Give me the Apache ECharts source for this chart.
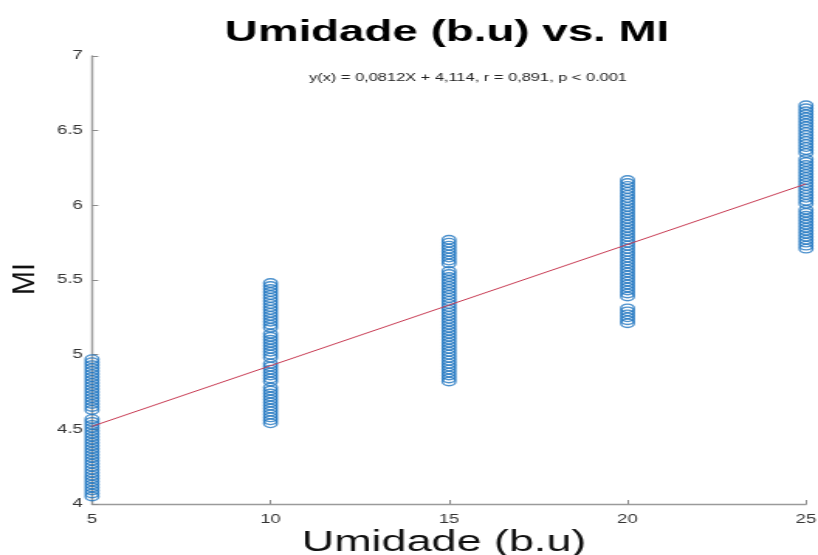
<!DOCTYPE html>
<html>
<head>
<meta charset="utf-8">
<script src="https://cdn.jsdelivr.net/npm/echarts@6/dist/echarts.min.js"></script>
<style>
html,body{margin:0;padding:0;background:#fff;overflow:hidden;}
#wrap{width:818px;height:555px;overflow:hidden;position:relative;}
#chart{width:528px;height:555px;transform:scaleX(1.549242);transform-origin:0 0;}
</style>
</head>
<body>
<div id="wrap"><div id="chart"></div></div>
<script>
// ---- data ----
const xGroups = [5, 10, 15, 20, 25];
const mi5  = [4.05,4.07,4.09,4.11,4.13,4.15,4.17,4.19,4.21,4.23,4.25,4.27,4.29,4.31,4.33,4.35,4.37,4.39,4.41,4.43,4.45,4.47,4.49,4.51,4.53,4.55,4.57,4.63,4.65,4.67,4.69,4.71,4.73,4.75,4.77,4.79,4.81,4.83,4.85,4.87,4.89,4.91,4.93,4.95,4.97];
const mi10 = [4.54,4.56,4.58,4.60,4.62,4.64,4.66,4.68,4.70,4.72,4.74,4.76,4.78,4.82,4.84,4.86,4.88,4.90,4.92,4.94,4.98,5.00,5.02,5.04,5.06,5.08,5.10,5.12,5.14,5.18,5.20,5.22,5.24,5.26,5.28,5.30,5.32,5.34,5.36,5.38,5.40,5.42,5.44,5.46,5.48];
const mi15 = [4.82,4.84,4.86,4.88,4.90,4.92,4.94,4.96,4.98,5.00,5.02,5.04,5.06,5.08,5.10,5.12,5.14,5.16,5.18,5.20,5.22,5.24,5.26,5.28,5.30,5.32,5.34,5.36,5.38,5.40,5.42,5.44,5.46,5.48,5.50,5.52,5.54,5.56,5.61,5.63,5.65,5.67,5.69,5.71,5.73,5.75,5.77];
const mi20 = [5.21,5.23,5.25,5.27,5.29,5.31,5.39,5.41,5.43,5.45,5.47,5.49,5.51,5.53,5.55,5.57,5.59,5.61,5.63,5.65,5.67,5.69,5.71,5.73,5.75,5.77,5.79,5.81,5.83,5.85,5.87,5.89,5.91,5.93,5.95,5.97,5.99,6.01,6.03,6.05,6.07,6.09,6.11,6.13,6.15,6.17];
const mi25 = [5.71,5.73,5.75,5.77,5.79,5.81,5.83,5.85,5.87,5.89,5.91,5.93,5.95,5.97,6.01,6.03,6.05,6.07,6.09,6.11,6.13,6.15,6.17,6.19,6.21,6.23,6.25,6.27,6.29,6.31,6.35,6.37,6.39,6.41,6.43,6.45,6.47,6.49,6.51,6.53,6.55,6.57,6.59,6.61,6.63,6.65,6.67];
const fitSlope = 0.0812;
const fitIntercept = 4.114;
const fitRange = [5, 25];
const xTicks = [5, 10, 15, 20, 25];
const yTicks = [4, 4.5, 5, 5.5, 6, 6.5, 7];
const titleText = 'Umidade (b.u) vs. MI';
const xName = 'Umidade (b.u)';
const yName = 'MI';
const eqText = 'y(x) = 0,0812X + 4,114, r = 0,891, p < 0.001';

// ---- build ----
const S = 818 / 528; // horizontal stretch of the whole figure
const groups = [mi5, mi10, mi15, mi20, mi25];
const scatterData = [];
groups.forEach((g, i) => g.forEach(v => scatterData.push([xGroups[i], v])));
const fitData = fitRange.map(x => [x, fitIntercept + fitSlope * x]);
const FONT = 'Liberation Sans, Arial, Helvetica, sans-serif';

const chart = echarts.init(document.getElementById('chart'));
const axisCommon = {
  axisLine: { show: true, lineStyle: { color: '#9a9a9a', width: 1.4 } },
  axisTick: { show: true, inside: true, length: 4, lineStyle: { color: '#8c8c8c' } },
  splitLine: { show: false },
  axisLabel: { color: '#333', fontSize: 12, fontFamily: FONT }
};
chart.setOption({
  animation: false,
  backgroundColor: '#fff',
  grid: { left: 92 / S, right: 12 / S, top: 56, bottom: 51, containLabel: false, outerBoundsMode: 'none' },
  xAxis: Object.assign({}, axisCommon, {
    type: 'value', min: xTicks[0], max: xTicks[xTicks.length-1], interval: 5,
    axisLabel: Object.assign({}, axisCommon.axisLabel, { margin: 10 })
  }),
  yAxis: Object.assign({}, axisCommon, {
    type: 'value', min: yTicks[0], max: yTicks[yTicks.length-1], interval: 0.5,
    axisLabel: Object.assign({}, axisCommon.axisLabel, { margin: 6 })
  }),
  graphic: [{
    type: 'text', x: 447 / S, y: 33,
    style: { text: titleText, fill: '#000', fontSize: 29.5, fontWeight: 'bold', fontFamily: FONT, align: 'center', verticalAlign: 'middle' }
  }, {
    type: 'text', x: 444 / S, y: 543,
    style: { text: xName, fill: '#111', fontSize: 29, fontFamily: FONT, align: 'center', verticalAlign: 'middle' }
  }, {
    type: 'group', x: 25 / S, y: 279, rotation: Math.PI / 2, scaleY: 0.69,
    children: [{
      type: 'text', x: 0, y: 0,
      style: { text: yName, fill: '#111', fontSize: 28.8, fontFamily: FONT, align: 'center', verticalAlign: 'middle' }
    }]
  }, {
    type: 'text', x: 468 / S, y: 78,
    style: { text: eqText, fill: '#222', fontSize: 10.6, fontFamily: FONT, align: 'center', verticalAlign: 'middle' }
  }],
  series: [{
    type: 'scatter', data: scatterData, symbol: 'circle', symbolSize: 8.5,
    itemStyle: { color: 'rgba(0,0,0,0)', borderColor: '#1f76c0', borderWidth: 1.4 },
    z: 2
  }, {
    type: 'line', data: fitData, symbol: 'none',
    lineStyle: { color: '#c83c54', width: 1 }, z: 3
  }]
});
</script>
</body>
</html>
